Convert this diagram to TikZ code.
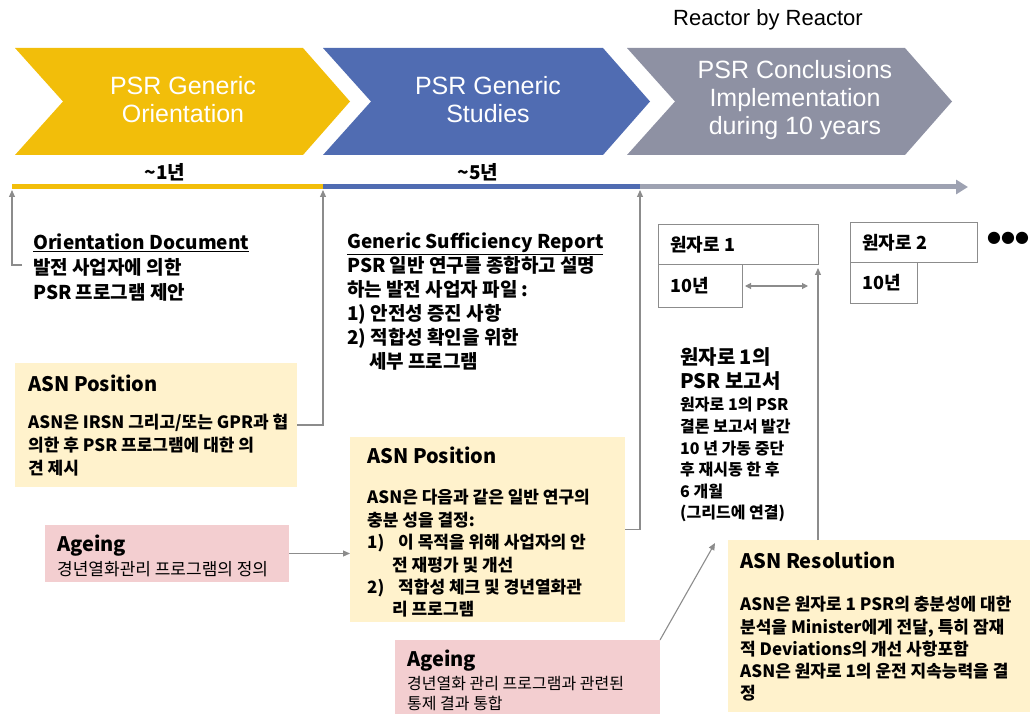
\documentclass[tikz,border=0pt]{standalone}
\usepackage{fontspec}
\setmainfont{Liberation Sans}
\newfontfamily\krfont{Noto Sans CJK KR}
\newfontfamily\dotfont{DejaVu Sans}
\usetikzlibrary{arrows.meta,positioning}
\definecolor{chyellow}{RGB}{242,190,10}
\definecolor{chblue}{RGB}{80,108,178}
\definecolor{chgray}{RGB}{142,145,163}
\definecolor{tlgray}{RGB}{158,162,178}
\definecolor{boxyellow}{RGB}{255,242,204}
\definecolor{boxpink}{RGB}{243,206,208}
\definecolor{conngray}{RGB}{140,140,140}

\tikzset{
  chevtxt/.style={text=white, align=center, font=\fontsize{25}{28}\selectfont},
  conn/.style={draw=conngray, line width=1.1pt, -{Triangle[length=7pt,width=6pt]}},
  ybox/.style={fill=boxyellow, anchor=north west, inner sep=0pt, outer sep=0pt},
  pbox/.style={fill=boxpink, anchor=north west, inner sep=0pt, outer sep=0pt},
  rbox/.style={draw=conngray, line width=1pt, fill=white, anchor=north west, inner sep=0pt, outer sep=0pt},
  krtxt/.style 2 args={align=left, inner sep=0pt, anchor=north west, font=\krfont\bfseries\fontsize{#1}{#2}\selectfont},
  krlight/.style 2 args={align=left, inner sep=0pt, anchor=north west, font=\krfont\fontsize{#1}{#2}\selectfont},
}

\begin{document}
\begin{tikzpicture}[x=1pt,y=-1pt]
\useasboundingbox (0,0) rectangle (1034,714);

% phases
\foreach \a/\b/\c in {15/303/chyellow,323/603/chblue,627/905/chgray}
  {\fill[\c] (\a,48) -- (\b,48) -- (\b+47,101.5) -- (\b,155) -- (\a,155) -- (\a+48,101.5) -- cycle;}
\node[chevtxt] (orientation) at (183,100) {PSR Generic\\Orientation};
\node[chevtxt] (studies) at (488,100) {PSR Generic\\Studies};
\node[chevtxt] (conclusions) at (795,100) {PSR Conclusions\\Implementation\\during 10 years};
\node[font=\fontsize{22}{26}\selectfont, inner sep=0pt] (reactorby) at (768,20) {Reactor by Reactor};

% time line
\coordinate (t0) at (12,187);
\coordinate (t1) at (323,187);
\coordinate (t2) at (640,187);
\coordinate (t3) at (968,187);
\draw[line width=5pt, chyellow] (t0) -- (t1);
\draw[line width=5pt, chblue] (t1) -- (t2);
\draw[line width=5pt, tlgray, -{Triangle[length=12pt,width=14pt]}] (t2) -- (t3);
\node[krtxt={19}{23}, anchor=center] (oneyear) at (165,172) {\textasciitilde 1년};
\node[krtxt={19}{23}, anchor=center] (fiveyear) at (478,172) {\textasciitilde 5년};

% documents
\node[krtxt={19}{25}] (orient) at (33,234) {\underline{Orientation Document}\\발전 사업자에 의한\\PSR 프로그램 제안};
\coordinate (orientend) at (22,265);
\draw[conn] (orientend) -| ([yshift=-3pt]t0);

\node[krtxt={19}{24}] (generic) at (347,233) {\underline{Generic Sufficiency Report}\\PSR 일반 연구를 종합하고 설명\\하는 발전 사업자 파일 :\\1) 안전성 증진 사항\\2) 적합성 확인을 위한\\\hspace*{22pt}세부 프로그램};

% ASN position 1
\node[ybox, minimum width=282, minimum height=124] (pos1) at (15,363) {};
\node[krtxt={20}{24}] (pos1title) at ([xshift=13pt,yshift=-12pt]pos1.north west) {ASN Position};
\node[krtxt={17}{23}, below right=22pt and 0pt of pos1title.south west] (pos1body) {ASN은 IRSN 그리고/또는 GPR과 협\\의한 후 PSR 프로그램에 대한 의\\견 제시};
\draw[conn] (pos1.east) -| ([yshift=-3pt]t1);

% ageing 1
\node[pbox, minimum width=244, minimum height=57] (age1) at (45,525) {};
\node[krtxt={20}{24}] (age1title) at ([xshift=12pt,yshift=-10pt]age1.north west) {Ageing};
\node[krlight={17}{21}, below right=4pt and 0pt of age1title.south west] (age1body) {경년열화관리 프로그램의 정의};

% ASN position 2
\node[ybox, minimum width=275, minimum height=185] (pos2) at (350,437) {};
\node[krtxt={20}{24}] (pos2title) at ([xshift=17pt,yshift=-10pt]pos2.north west) {ASN Position};
\node[krtxt={17}{22.4}, below right=25pt and 0pt of pos2title.south west] (pos2body) {ASN은 다음과 같은 일반 연구의\\충분 성을 결정:\\1)\hspace{10pt} 이 목적을 위해 사업자의 안\\\hspace*{25pt}전 재평가 및 개선\\2)\hspace{10pt} 적합성 체크 및 경년열화관\\\hspace*{25pt}리 프로그램};
\draw[conn] (age1.east) -- (pos2.west |- age1.east);
\draw[conn] (pos2.east) -| ([yshift=-3pt]t2);

% reactors
\node[rbox, minimum width=160, minimum height=40] (r1top) at (658,225) {};
\node[krtxt={18}{22}, anchor=west] (r1name) at ([xshift=12pt]r1top.west) {원자로 1};
\node[rbox, minimum width=84, minimum height=42] (r1yr) at (r1top.south west) {};
\node[krtxt={18}{22}, anchor=west] (r1years) at ([xshift=12pt]r1yr.west) {10년};
\node[rbox, minimum width=127, minimum height=40] (r2top) at (850,223) {};
\node[krtxt={18}{22}, anchor=west] (r2name) at ([xshift=12pt]r2top.west) {원자로 2};
\node[rbox, minimum width=67, minimum height=40] (r2yr) at (r2top.south west) {};
\node[krtxt={18}{22}, anchor=west] (r2years) at ([xshift=12pt]r2yr.west) {10년};
\node[font=\dotfont\fontsize{16}{16}\selectfont, inner sep=0pt] (moredots) at (1008,238) {●●●};
\draw[conn, {Triangle[length=6pt,width=6pt]}-{Triangle[length=6pt,width=6pt]}] ([xshift=3pt]r1yr.east) -- ([xshift=-10pt]r1top.south east |- r1yr.east);

% reactor 1 report
\node[krtxt={20}{24}] (rephead) at (680,347) {원자로 1의\\PSR 보고서};
\node[krtxt={16}{21.6}, below right=7pt and 0pt of rephead.south west] (repbody) {원자로 1의 PSR\\결론 보고서 발간\\10 년 가동 중단\\후 재시동 한 후\\6 개월\\(그리드에 연결)};

% ASN resolution
\node[ybox, minimum width=302, minimum height=172] (res) at (728,540) {};
\node[krtxt={20}{24}] (restitle) at ([xshift=12pt,yshift=-12pt]res.north west) {ASN Resolution};
\node[krtxt={17}{22.2}, below right=27pt and 0pt of restitle.south west] (resbody) {ASN은 원자로 1 PSR의 충분성에 대한\\분석을 Minister에게 전달, 특히 잠재\\적 Deviations의 개선 사항포함\\ASN은 원자로 1의 운전 지속능력을 결\\정};
\draw[conn] (r1top.south east |- res.north) -- ([yshift=-3pt]r1top.south east);

% ageing 2
\node[pbox, minimum width=265, minimum height=74] (age2) at (395,640) {};
\node[krtxt={20}{24}] (age2title) at ([xshift=12pt,yshift=-10pt]age2.north west) {Ageing};
\node[krlight={16}{20}, below right=4pt and 0pt of age2title.south west] (age2body) {경년열화 관리 프로그램과 관련된\\통제 결과 통합};
\coordinate (reparrow) at (715,543);
\draw[conn] (age2.north east) -- (reparrow);
\end{tikzpicture}
\end{document}
